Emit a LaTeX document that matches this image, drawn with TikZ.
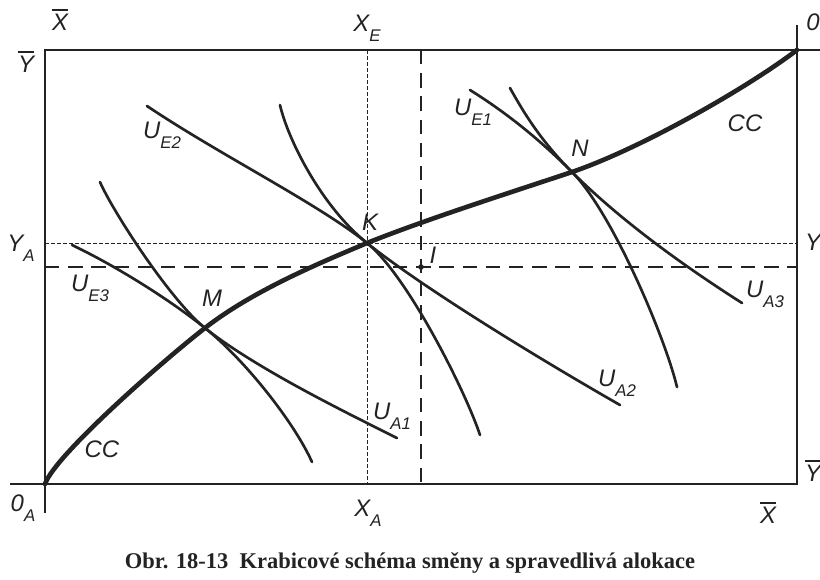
\documentclass[tikz,border=0pt]{standalone}
\usepackage{fontspec}
\setmainfont{Liberation Serif}
\setsansfont{Liberation Sans}
\definecolor{boxink}{HTML}{232323}
\newcommand{\sublab}[2]{#1\raisebox{-0.42em}{\fontsize{12}{14}\selectfont #2}}
\newcommand{\barlab}[1]{\vbox{\hrule height 0.9pt\kern 2.5pt\hbox{#1}}}

\begin{document}
\begin{tikzpicture}[
  x=0.25mm, y=-0.25mm,
  lab/.style={font=\sffamily\itshape\fontsize{17}{20}\selectfont, text=boxink,
              inner sep=0pt},
  axis/.style={draw=boxink, line width=1.1pt},
  icurve/.style={draw=boxink, line width=1.9pt, line cap=round},
  ccurve/.style={draw=boxink, line width=3.3pt, line cap=round},
  dotline/.style={draw=boxink, line width=0.5pt, dash pattern=on 0.9mm off 0.6mm},
  dashline/.style={draw=boxink, line width=0.9pt, dash pattern=on 3.6mm off 2.2mm}]

%% Platno v pixelech predlohy (820 x 579), osa y jde dolu.
\useasboundingbox (0,0) rectangle (820,579);

%% ---- body ----
\coordinate (oA) at (45,484);
\coordinate (oE) at (797,50);
\coordinate (M) at (205,328);
\coordinate (K) at (367,243);
\coordinate (N) at (572,172);
\coordinate (I) at (421,267);

%% ---- krabice: osy A (vlevo dole) a E (vpravo nahore) ----
\draw[axis] (45,513) -- (oA |- oE) -- (820,50);
\draw[axis] (10,484) -- (oE |- oA) -- (797,25);

%% ---- vodici cary ----
\draw[dotline]  (K |- oE) -- (K |- oA);
\draw[dotline]  (oA |- K) -- (oE |- K);
\draw[dashline] (I |- oE) -- (I |- oA);
\draw[dashline] (oA |- I) -- (oE |- I);
\fill[boxink] (I) circle[radius=0.7mm];

%% ---- indiferencni krivky ----
\draw[icurve] (100,182) .. controls (112,210) and (170,300) .. (M)
              .. controls (255,368) and (347,413) .. (397,438);
\draw[icurve] (72,245) .. controls (110,263) and (165,296) .. (M)
              .. controls (245,360) and (294,422) .. (312,462);
\draw[icurve] (147,106) .. controls (220,155) and (317,203) .. (K)
              .. controls (407,275) and (465,390) .. (480,435);
\draw[icurve] (280,105) .. controls (288,140) and (322,207) .. (K)
              .. controls (427,291) and (550,365) .. (620,405);
\draw[icurve] (470,90) .. controls (510,115) and (542,142) .. (N)
              .. controls (612,212) and (665,337) .. (677,387);
\draw[icurve] (510,88) .. controls (525,115) and (542,142) .. (N)
              .. controls (622,222) and (687,268) .. (742,303);

%% ---- krivka smluv CC ----
\draw[ccurve] (oA) .. controls (55,455) and (165,359) .. (M)
              .. controls (255,289) and (327,260) .. (K)
              .. controls (427,219) and (512,192) .. (N)
              .. controls (642,148) and (747,88) .. (oE);

%% ---- popisky ----
\node[lab] (xbarT) at (60,20)   {\barlab{X}};
\node[lab] (ybarL) at (26,62)   {\barlab{Y}};
\node[lab] (xE)    at (367,28)  {\sublab{X}{E}};
\node[lab] (oEl)   at (813,22)  {0};
\node[lab] (yA)    at (21,248)  {\sublab{Y}{A}};
\node[lab] (yE)    at (813,242) {Y};
\node[lab] (uE3)   at (90,288)  {\sublab{U}{E3}};
\node[lab] (uE2)   at (162,135) {\sublab{U}{E2}};
\node[lab] (uE1)   at (473,112) {\sublab{U}{E1}};
\node[lab] (kl)    at (370,222) {K};
\node[lab] (ml)    at (212,298) {M};
\node[lab] (nl)    at (580,148) {N};
\node[lab] (il)    at (433,255) {I};
\node[lab] (ccT)   at (745,123) {CC};
\node[lab] (ccB)   at (102,449) {CC};
\node[lab] (uA1)   at (392,416) {\sublab{U}{A1}};
\node[lab] (uA2)   at (617,383) {\sublab{U}{A2}};
\node[lab] (uA3)   at (765,294) {\sublab{U}{A3}};
\node[lab] (oAl)   at (23,508)  {\sublab{0}{A}};
\node[lab] (xA)    at (368,513) {\sublab{X}{A}};
\node[lab] (ybarR) at (813,471) {\barlab{Y}};
\node[lab] (xbarB) at (768,513) {\barlab{X}};

%% ---- titulek ----
\node[font=\rmfamily\bfseries\fontsize{16}{19}\selectfont, text=boxink,
      inner sep=0pt] (caption) at (410,563)
  {Obr. 18-13\ \ Krabicové schéma směny a spravedlivá alokace};

\end{tikzpicture}
\end{document}
